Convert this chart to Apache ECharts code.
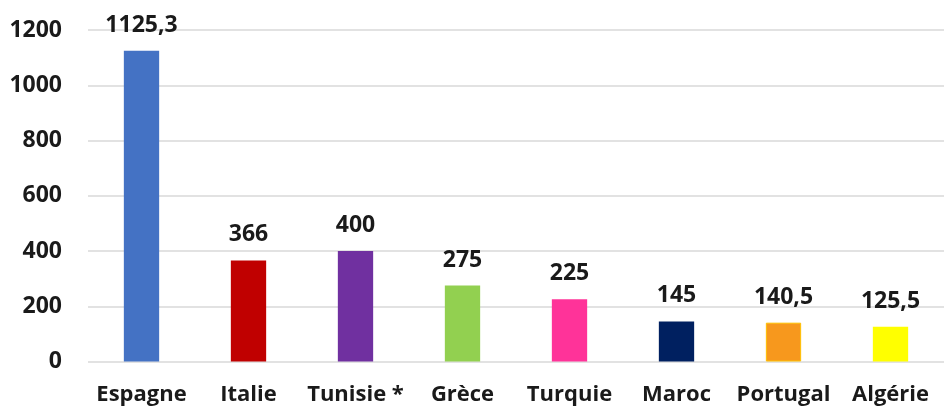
<!DOCTYPE html>
<html><head><meta charset="utf-8">
<script src="https://cdn.jsdelivr.net/npm/echarts@6/dist/echarts.min.js"></script>
<style>html,body{margin:0;padding:0;background:#fff}#c{width:944px;height:409px}</style>
</head><body><div id="c"></div>
<script>
const categories = ['Espagne', 'Italie', 'Tunisie *', 'Grèce', 'Turquie', 'Maroc', 'Portugal', 'Algérie'];
const values = [1125.3, 366, 400, 275, 225, 145, 140.5, 125.5];
const barColors = ['#4472C4', '#C00000', '#7030A0', '#92D050', '#FF3399', '#002060', '#F7981D', '#FFFF00'];
const yTicks = [0, 200, 400, 600, 800, 1000, 1200];

const chart = echarts.init(document.getElementById('c'));
const font = '"Open Sans", sans-serif';
chart.setOption({
  animation: false,
  grid: { left: 88, right: -13, top: 30, bottom: 47.5, containLabel: false },
  xAxis: {
    type: 'category', data: categories,
    axisLine: { show: false }, axisTick: { show: false },
    axisLabel: { fontFamily: font, fontWeight: 'bold', fontSize: 22, color: '#1a1a1a', margin: 22, interval: 0 }
  },
  yAxis: {
    type: 'value', min: yTicks[0], max: yTicks[yTicks.length - 1], interval: 200,
    axisLine: { show: false }, axisTick: { show: false },
    splitLine: { lineStyle: { color: '#d9d9d9', width: 1.5 } },
    axisLabel: { fontFamily: font, fontWeight: 'bold', fontSize: 23, color: '#1a1a1a', margin: 26, formatter: v => String(v) }
  },
  series: [{
    type: 'bar', barWidth: '33%',
    data: values.map((v, i) => ({ value: v, itemStyle: { color: barColors[i], borderColor: i === 6 ? '#FFC000' : barColors[i], borderWidth: i === 6 ? 1 : 0 } })),
    label: {
      show: true, position: 'top', distance: 14,
      fontFamily: font, fontWeight: 'bold', fontSize: 23, color: '#1a1a1a',
      formatter: p => String(p.value).replace('.', ',')
    }
  }]
});
</script></body></html>
